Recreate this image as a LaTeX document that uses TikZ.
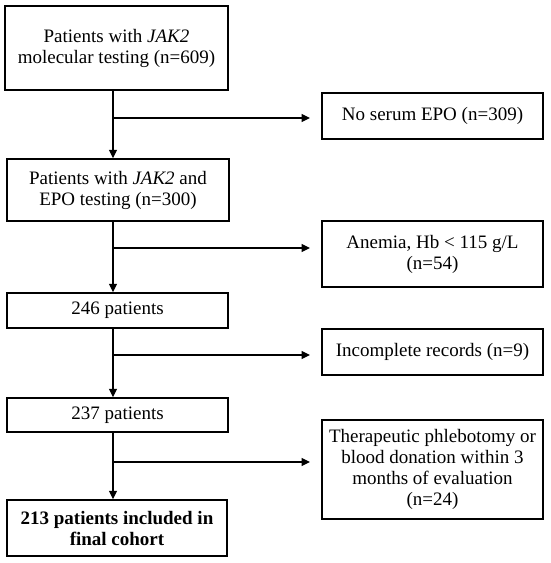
\documentclass[tikz,border=0pt]{standalone}
\usepackage{fontspec}
\setmainfont{Liberation Serif}
\usetikzlibrary{arrows.meta}
\begin{document}
\begin{tikzpicture}[x=1pt,y=-1pt,
  box/.style={draw=black, line width=1.5pt, inner sep=0pt, align=center,
    font=\fontsize{19}{21}\selectfont},
  conn/.style={line width=1.2pt},
  arr/.style={conn, -{Triangle[length=8.5pt,width=8pt]}}]
\useasboundingbox (0,0) rectangle (550,563);
\node[box, minimum width=223pt, minimum height=84pt] (b1) at (116.5,48) {Patients with \textit{JAK2}\\molecular testing (n=609)};
\node[box, minimum width=222pt, minimum height=62pt] (b2) at (118,190) {Patients with \textit{JAK2} and\\EPO testing (n=300)};
\node[box, minimum width=221pt, minimum height=35pt] (b3) at (117.5,310.5) {246 patients};
\node[box, minimum width=221pt, minimum height=34pt] (b4) at (117.5,415) {237 patients};
\node[box, minimum width=220pt, minimum height=56pt, font=\fontsize{19}{21}\selectfont\bfseries] (b5) at (117,528) {213 patients included in\\final cohort};
\node[box, minimum width=221pt, minimum height=46pt] (r1) at (432.5,116) {No serum EPO (n=309)};
\node[box, minimum width=221pt, minimum height=66pt] (r2) at (432.5,254) {Anemia, Hb < 115 g/L\\(n=54)};
\node[box, minimum width=221pt, minimum height=46pt] (r3) at (432.5,352) {Incomplete records (n=9)};
\node[box, minimum width=221pt, minimum height=99pt] (r4) at (432.5,469.5) {Therapeutic phlebotomy or\\blood donation within 3\\months of evaluation\\(n=24)};
\coordinate (t) at (113,0);
\coordinate (e1) at (310,118);
\coordinate (e2) at (310,248);
\coordinate (e3) at (310,355);
\coordinate (e4) at (310,462);
\draw[arr] (b1.south -| t) -- (b2.north -| t);
\draw[arr] (b2.south -| t) -- (b3.north -| t);
\draw[arr] (b3.south -| t) -- (b4.north -| t);
\draw[arr] (b4.south -| t) -- (b5.north -| t);
\draw[arr] (e1 -| t) -- (e1);
\draw[arr] (e2 -| t) -- (e2);
\draw[arr] (e3 -| t) -- (e3);
\draw[arr] (e4 -| t) -- (e4);
\end{tikzpicture}
\end{document}
